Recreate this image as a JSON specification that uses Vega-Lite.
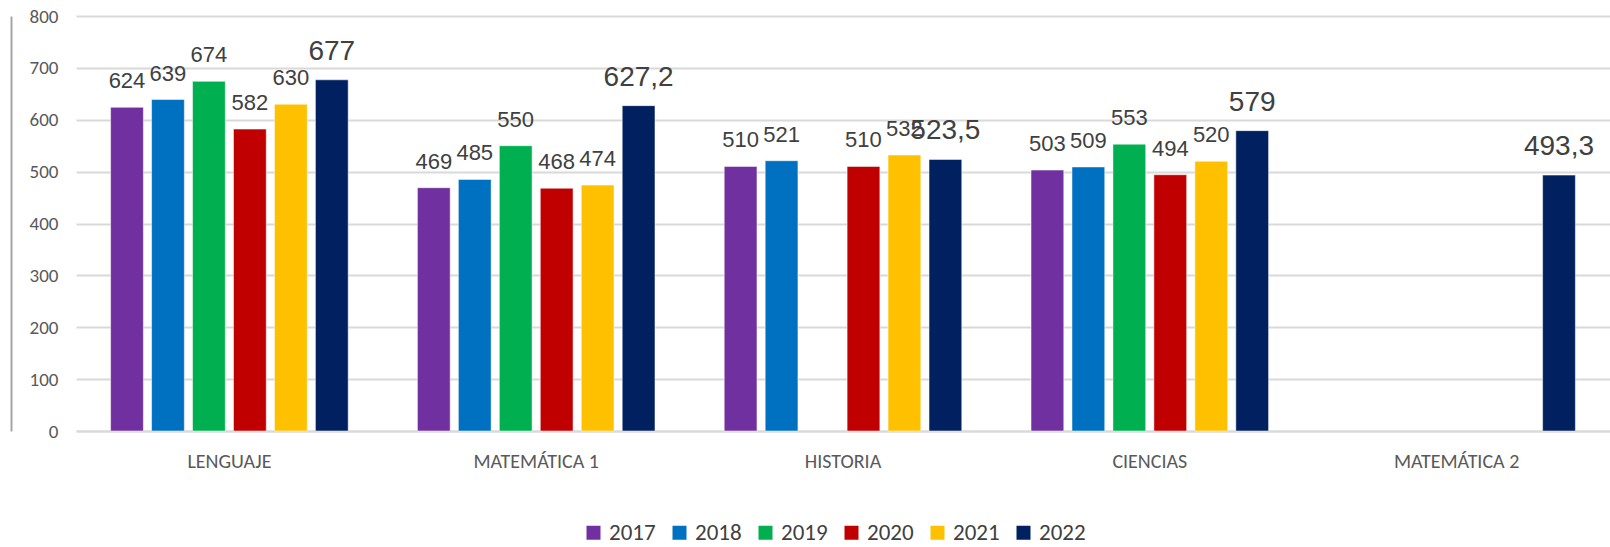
{
  "$schema": "https://vega.github.io/schema/vega-lite/v6.json",
  "width": 1534,
  "height": 415,
  "autosize": {"type": "none"},
  "padding": {"left": 76, "top": 16, "right": 0, "bottom": 116},
  "background": "white",
  "config": {
    "locale": {"number": {"decimal": ",", "thousands": ".", "grouping": [3], "currency": ["", ""]}},
    "view": {"stroke": null},
    "font": "Carlito, Lato, sans-serif"
  },
  "data": {
    "values": [
      {"prueba": "LENGUAJE", "year": "2017", "puntaje": 624},
      {"prueba": "LENGUAJE", "year": "2018", "puntaje": 639},
      {"prueba": "LENGUAJE", "year": "2019", "puntaje": 674},
      {"prueba": "LENGUAJE", "year": "2020", "puntaje": 582},
      {"prueba": "LENGUAJE", "year": "2021", "puntaje": 630},
      {"prueba": "LENGUAJE", "year": "2022", "puntaje": 677},
      {"prueba": "MATEMÁTICA 1", "year": "2017", "puntaje": 469},
      {"prueba": "MATEMÁTICA 1", "year": "2018", "puntaje": 485},
      {"prueba": "MATEMÁTICA 1", "year": "2019", "puntaje": 550},
      {"prueba": "MATEMÁTICA 1", "year": "2020", "puntaje": 468},
      {"prueba": "MATEMÁTICA 1", "year": "2021", "puntaje": 474},
      {"prueba": "MATEMÁTICA 1", "year": "2022", "puntaje": 627.2},
      {"prueba": "HISTORIA", "year": "2017", "puntaje": 510},
      {"prueba": "HISTORIA", "year": "2018", "puntaje": 521},
      {"prueba": "HISTORIA", "year": "2020", "puntaje": 510},
      {"prueba": "HISTORIA", "year": "2021", "puntaje": 532},
      {"prueba": "HISTORIA", "year": "2022", "puntaje": 523.5},
      {"prueba": "CIENCIAS", "year": "2017", "puntaje": 503},
      {"prueba": "CIENCIAS", "year": "2018", "puntaje": 509},
      {"prueba": "CIENCIAS", "year": "2019", "puntaje": 553},
      {"prueba": "CIENCIAS", "year": "2020", "puntaje": 494},
      {"prueba": "CIENCIAS", "year": "2021", "puntaje": 520},
      {"prueba": "CIENCIAS", "year": "2022", "puntaje": 579},
      {"prueba": "MATEMÁTICA 2", "year": "2022", "puntaje": 493.3}
    ]
  },
  "encoding": {
    "x": {
      "field": "prueba", "type": "nominal",
      "sort": ["LENGUAJE", "MATEMÁTICA 1", "HISTORIA", "CIENCIAS", "MATEMÁTICA 2"],
      "scale": {"paddingInner": 0, "paddingOuter": 0},
      "axis": {"title": null, "labelAngle": 0, "ticks": false, "domain": true, "domainColor": "#d9d9d9", "domainWidth": 2,
               "labelPadding": 20, "labelFontSize": 20, "labelColor": "#595959", "labelFont": "Carlito, Lato, sans-serif"}
    },
    "xOffset": {
      "field": "year", "type": "nominal",
      "scale": {"domain": ["2017", "2018", "2019", "2020", "2021", "2022"], "paddingInner": 0.2, "paddingOuter": 0.845}
    },
    "y": {
      "field": "puntaje", "type": "quantitative",
      "scale": {"domain": [0, 800], "nice": false},
      "axis": {"title": null, "values": [0, 100, 200, 300, 400, 500, 600, 700, 800], "labelOverlap": false, "ticks": false, "domain": true,
               "domainColor": "#a6a6a6", "domainWidth": 2, "offset": 65,
               "grid": true, "gridColor": "#d9d9d9", "gridWidth": 2,
               "labelPadding": -47, "labelAlign": "right", "labelFontSize": 19, "labelColor": "#595959", "labelFont": "Carlito, Lato, sans-serif"}
    }
  },
  "layer": [
    {
      "mark": {"type": "bar", "stroke": "#ffffff", "strokeOpacity": 0.5, "strokeWidth": 1},
      "encoding": {
        "color": {
          "field": "year", "type": "nominal",
          "scale": {"domain": ["2017", "2018", "2019", "2020", "2021", "2022"],
                    "range": ["#7030A0", "#0070C0", "#00B050", "#C00000", "#FFC000", "#002060"]},
          "legend": {
            "title": null, "orient": "none", "direction": "horizontal", "columns": 6,
            "legendX": 506, "legendY": 505,
            "symbolType": "square", "symbolSize": 196, "symbolStrokeWidth": 0,
            "labelFontSize": 23, "labelColor": "#404040", "labelFont": "Carlito, Lato, sans-serif",
            "labelOffset": 4, "columnPadding": 12
          }
        }
      }
    },
    {
      "mark": {"type": "text", "baseline": "bottom", "dy": -14, "font": "Liberation Sans", "color": "#404040"},
      "encoding": {
        "text": {"field": "puntaje", "type": "quantitative", "format": ".1~f"},
        "size": {"condition": {"test": "datum.year === '2022'", "value": 28}, "value": 22}
      }
    }
  ]
}
